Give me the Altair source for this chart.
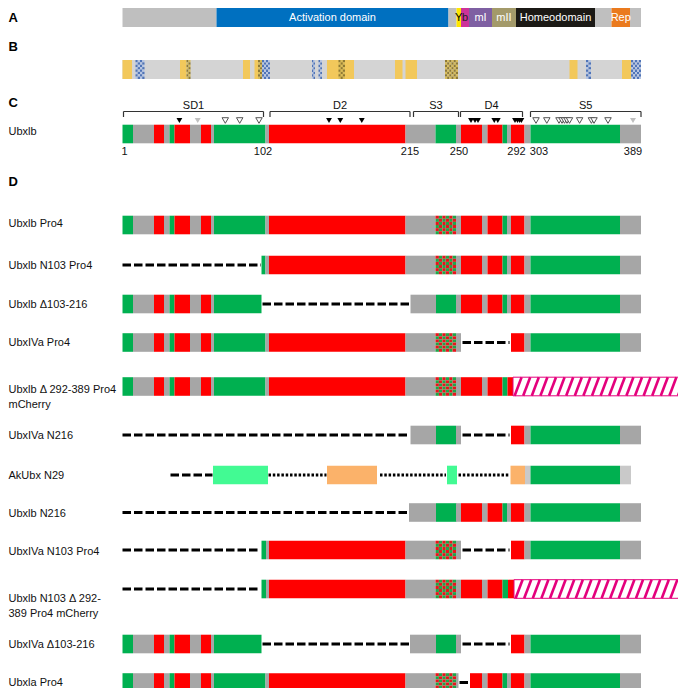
import altair as alt
import pandas as pd

W, H = 670, 680

# ---------------- Panel A: domain map ----------------
A_START = [122.5, 216.5, 448.5, 456.5, 461, 469, 492, 516, 595, 611.5, 630]
A_END = [216.5, 448.5, 456.5, 461, 469, 492, 516, 595, 611.5, 630, 641]
A_COLOR = ['#bfbfbf', '#0070c0', '#bfbfbf', '#ffe600', '#cc3399', '#7e5fa2',
           '#a39a6a', '#1b1915', '#bfbfbf', '#ea7a1e', '#bfbfbf']
A_TEXT = ['', 'Activation domain', '', 'Y', 'b', 'mI', 'mII', 'Homeodomain', '', 'Rep', '']
A_TEXT_COLOR = ['white', 'white', 'white', 'black', '#222222', 'white', 'white',
                'white', 'white', 'white', 'white']
A_Y = 17.5

# ---------------- Panel B: sequence features ----------------
B_SPAN = (122.5, 641)
B_Y = 69.5
B_FEATURES = [
    (122.5, 132, 'Y'), (135.5, 144.5, 'B'), (180, 186.5, 'Y'), (186.5, 190.5, 'O'),
    (243, 250, 'Y'), (254.5, 258, 'Y'), (258, 262, 'O'), (262, 270, 'B'),
    (312, 315, 'B'), (318.5, 322, 'B'), (327, 354, 'Y'), (338.5, 345, 'O'),
    (395, 402.5, 'Y'), (405.5, 417, 'Y'), (445, 458, 'O'), (569.5, 577.5, 'Y'),
    (586, 591, 'B'), (622, 631, 'Y'), (631, 641, 'B'),
]

# ---------------- Panel C: Ubxlb regions ----------------
C_Y = 134
C_BRACKETS = [('SD1', 123.5, 263.5), ('D2', 270, 410), ('S3', 413.5, 458.5),
              ('D4', 460.5, 522.5), ('S5', 530.5, 641)]
C_NUMBERS = ['1', '102', '215', '250', '292', '303', '389']
C_NUMBER_POS = [124.5, 263, 410, 459, 516.5, 539, 633]
TRI_BLACK = [179.4, 329, 340.3, 361.8, 471, 475, 478, 494.3, 497.8, 515, 517.5, 519.7, 521.4]
TRI_GRAY = [197.7, 633]
TRI_OPEN = [225.3, 239.7, 259, 536, 546.8, 559, 562, 564.5, 567, 569.5, 579.6, 591.4, 594, 608]

STD_N = [(122.5, 133, 'G'), (133, 154, 'g'), (154, 164, 'R'), (164, 169.5, 'g'),
         (169.5, 174.5, 'G'), (174.5, 190, 'R'), (190, 201, 'g'), (201, 211, 'R'),
         (211, 214, 'g')]
C_SEGS = STD_N + [(214, 265.5, 'G'), (265.5, 269, 'g'), (269, 405.5, 'R'), (405.5, 435.5, 'g'),
                  (435.5, 456, 'G'), (456, 461, 'g'), (461, 482, 'R'), (482, 487.5, 'g'),
                  (487.5, 502.5, 'R'), (502.5, 507, 'G'), (507, 511, 'g'), (511, 524.5, 'R'),
                  (524.5, 530.5, 'g'), (530.5, 620, 'G'), (620, 641, 'g')]

# ---------------- Panel D: constructs ----------------
D_LABELS = ['Ubxlb Pro4', 'Ubxlb N103 Pro4', 'Ubxlb \u0394103-216', 'UbxIVa Pro4',
            'Ubxlb \u0394 292-389 Pro4\nmCherry', 'UbxIVa N216', 'AkUbx N29', 'Ubxlb  N216',
            'UbxIVa N103 Pro4', 'Ubxlb N103 \u0394 292-\n389 Pro4 mCherry',
            'UbxIVa \u0394103-216', 'Ubxla Pro4']
D_Y = [225, 265, 304, 342.5, 386.5, 435, 475, 512.5, 550, 589, 644, 682.5]
D_LABEL_Y = [224, 266, 305, 343, 389.5, 436, 476, 513.5, 552, 599, 645, 683]

MID = [(214, 265.5, 'G'), (265.5, 269, 'g'), (269, 405.5, 'R'), (405.5, 435.5, 'g')]
C_TAIL = [(511, 524.5, 'R'), (524.5, 530.5, 'g'), (530.5, 620, 'G'), (620, 641, 'g')]
D4_FULL = [(456, 461, 'g'), (461, 482, 'R'), (482, 487.5, 'g'), (487.5, 502.5, 'R'),
           (502.5, 507, 'G'), (507, 511, 'g')]

D_SEGS = [
    STD_N + MID + [(435.5, 456, 'K')] + D4_FULL + C_TAIL,
    [(122.5, 261, '-'), (261.5, 265.5, 'G'), (265.5, 269, 'g'), (269, 405.5, 'R'),
     (405.5, 435.5, 'g'), (435.5, 456, 'K')] + D4_FULL + C_TAIL,
    STD_N + [(214, 261.5, 'G'), (262.5, 410, '-'), (410.5, 436, 'g'), (436, 456, 'G')]
    + D4_FULL + C_TAIL,
    STD_N + MID + [(435.5, 456, 'K'), (456, 461, 'g'), (462.5, 509.5, '-')] + C_TAIL,
    STD_N + MID + [(435.5, 456, 'K'), (456, 461, 'g'), (461, 482, 'R'), (482, 487.5, 'g'),
                   (487.5, 502.5, 'R'), (502.5, 507.5, 'G'), (507.5, 513, 'R'),
                   (513, 681.5, 'H')],
    [(122.5, 409, '-'), (410.5, 436, 'g'), (436, 456, 'G'), (456, 461, 'g'),
     (462.5, 509.5, '-')] + C_TAIL,
    [(170.5, 212.5, '-'), (213, 268, 'M'), (268.5, 326.5, ':'), (327, 377, 'O'),
     (380, 446, ':'), (447, 457, 'M'), (458.5, 509.5, ':'), (510.5, 525, 'O'),
     (525, 530.5, 'l'), (530.5, 620, 'G'), (620, 631, 'l')],
    [(122.5, 408, '-'), (409, 436, 'g'), (436, 456.5, 'G')] + D4_FULL + C_TAIL,
    [(122.5, 260.5, '-'), (261.5, 266, 'G'), (266, 269, 'g'), (269, 405.5, 'R'),
     (405.5, 435.5, 'g'), (435.5, 456, 'K'), (456, 461, 'g'), (462.5, 509.5, '-')] + C_TAIL,
    [(122.5, 260.5, '-'), (261.5, 266, 'G'), (266, 269, 'g'), (269, 405.5, 'R'),
     (405.5, 435.5, 'g'), (435.5, 456, 'K'), (456, 461, 'g'), (461, 482, 'R'),
     (482, 487.5, 'g'), (487.5, 502.5, 'R'), (502.5, 508, 'G'), (508, 514, 'R'),
     (514, 682.5, 'H')],
    STD_N + [(214, 261.5, 'G'), (262.5, 409.5, '-'), (410, 436, 'g'), (436, 456, 'G'),
             (456, 461, 'g'), (462.5, 509.5, '-')] + C_TAIL,
    STD_N + MID + [(435.5, 456, 'K'), (456, 458.5, 'g'), (459.5, 469.5, '-'),
                   (470, 482, 'R'), (482, 487.5, 'g'), (487.5, 502.5, 'R'),
                   (502.5, 507, 'G'), (507, 511, 'g')] + C_TAIL,
]

# ---------------- styles ----------------
KIND_COLOR = {'G': '#00b050', 'g': '#a6a6a6', 'R': '#ff0000', 'M': '#42fa93',
              'O': '#fbb26a', 'l': '#c9c9c9'}
HALF = 9.3
PINK = '#e4007c'
FONT = 'Liberation Sans'
LEFT = 8.5

rects, dashes, dots, lines_hatch, borders, brackets = [], [], [], [], [], []


def add_rect(x, x2, yc, fill, half=HALF):
    rects.append(dict(x=x, x2=x2, y=yc - half, y2=yc + half, fill=fill))


def add_texture(x, x2, yc, c1, c2, nx, ny, half=HALF):
    cw = (x2 - x) / nx
    ch = 2 * half / ny
    for i in range(nx):
        for j in range(ny):
            rects.append(dict(x=x + i * cw, x2=x + (i + 1) * cw,
                              y=yc - half + j * ch, y2=yc - half + (j + 1) * ch,
                              fill=c1 if (i + j) % 2 == 0 else c2))


def add_hatch(x, x2, yc):
    add_rect(x, x2, yc, 'white')
    top, bot = yc - HALF, yc + HALF
    dx, period = 7.0, 8.6
    b = x - dx
    while b < x2:
        t0 = max(0.0, (x - b) / dx)
        t1 = min(1.0, (x2 - b) / dx)
        if t1 > t0:
            lines_hatch.append(dict(x=b + dx * t0, x2=b + dx * t1,
                                    y=bot - (bot - top) * t0, y2=bot - (bot - top) * t1))
        b += period
    borders.append(dict(x=x, x2=x2, y=top, y2=bot))


def add_segments(segs, yc):
    for s, e, k in segs:
        if k == '-':
            dashes.append(dict(x=s, x2=e, y=yc))
        elif k == ':':
            dots.append(dict(x=s, x2=e, y=yc))
        elif k == 'K':
            add_texture(s, e, yc, '#e8141c', '#1fa64a', 6, 6)
        elif k == 'H':
            add_hatch(s, e, yc)
        else:
            add_rect(s, e, yc, KIND_COLOR[k])


# Panel A
for s, e, c in zip(A_START, A_END, A_COLOR):
    add_rect(s, e, A_Y, c, 9.5)
# Panel B
add_rect(B_SPAN[0], B_SPAN[1], B_Y, '#d4d4d4', 9.5)
for s, e, k in B_FEATURES:
    if k == 'Y':
        add_rect(s, e, B_Y, '#f2c85b', 9.5)
    elif k == 'B':
        add_texture(s, e, B_Y, '#4f74b8', '#b7c6e2', max(2, round((e - s) / 2.2)), 8, 9.5)
    else:
        add_texture(s, e, B_Y, '#8f7a35', '#d9bd5a', max(2, round((e - s) / 2.2)), 8, 9.5)
# Panel C
add_segments(C_SEGS, C_Y)
for name, s, e in C_BRACKETS:
    brackets.append(dict(x=s, x2=e, y=111.5, y2=111.5))
    brackets.append(dict(x=s, x2=s, y=111.5, y2=117))
    brackets.append(dict(x=e, x2=e, y=111.5, y2=117))
# Panel D
for segs, yc in zip(D_SEGS, D_Y):
    add_segments(segs, yc)

xs = alt.Scale(domain=[8, 8 + W], nice=False, zero=False)
ys = alt.Scale(domain=[8, 8 + H], nice=False, zero=False, reverse=True)


def X(f):
    return alt.X(f, type='quantitative', scale=xs, axis=None)


def Y(f):
    return alt.Y(f, type='quantitative', scale=ys, axis=None)


rect_layer = alt.Chart(pd.DataFrame(rects)).mark_rect(strokeWidth=0).encode(
    x=X('x'), x2='x2', y=Y('y'), y2='y2', fill=alt.Fill('fill:N', scale=None))
hatch_layer = alt.Chart(pd.DataFrame(lines_hatch)).mark_rule(
    color=PINK, strokeWidth=2.6).encode(x=X('x'), x2='x2', y=Y('y'), y2='y2')
border_layer = alt.Chart(pd.DataFrame(borders)).mark_rect(
    fillOpacity=0, stroke=PINK, strokeWidth=1).encode(x=X('x'), x2='x2', y=Y('y'), y2='y2')
dash_layer = alt.Chart(pd.DataFrame(dashes)).mark_rule(
    color='black', strokeWidth=3, strokeDash=[8.5, 3]).encode(x=X('x'), x2='x2', y=Y('y'))
dot_layer = alt.Chart(pd.DataFrame(dots)).mark_rule(
    color='black', strokeWidth=3, strokeDash=[2.5, 1.8]).encode(x=X('x'), x2='x2', y=Y('y'))
bracket_layer = alt.Chart(pd.DataFrame(brackets)).mark_rule(
    color='#333333', strokeWidth=1.2).encode(x=X('x'), x2='x2', y=Y('y'), y2='y2')

TRI_Y = 120.5
tri_black = alt.Chart(pd.DataFrame(dict(x=TRI_BLACK, y=TRI_Y))).mark_point(
    shape='triangle-down', filled=True, color='black', size=34, opacity=1).encode(x=X('x'), y=Y('y'))
tri_gray = alt.Chart(pd.DataFrame(dict(x=TRI_GRAY, y=TRI_Y))).mark_point(
    shape='triangle-down', filled=True, color='#c0c0c0', size=36, opacity=1).encode(x=X('x'), y=Y('y'))
tri_open = alt.Chart(pd.DataFrame(dict(x=TRI_OPEN, y=TRI_Y))).mark_point(
    shape='triangle-down', filled=True, fill='white', stroke='#555555', strokeWidth=1,
    size=42, opacity=1).encode(x=X('x'), y=Y('y'))

# Texts
a_txt = pd.DataFrame(dict(x=[(s + e) / 2 for s, e in zip(A_START, A_END)], y=A_Y,
                          t=A_TEXT, c=A_TEXT_COLOR))
a_txt = a_txt[a_txt.t != '']
a_text_layer = alt.Chart(a_txt).mark_text(font=FONT, fontSize=11, baseline='middle').encode(
    x=X('x'), y=Y('y'), text='t:N', color=alt.Color('c:N', scale=None))

letters = pd.DataFrame(dict(x=LEFT, y=[A_Y, 47, 103, 182], t=['A', 'B', 'C', 'D']))
letter_layer = alt.Chart(letters).mark_text(
    font=FONT, fontSize=13, fontWeight='bold', align='left', baseline='middle').encode(
    x=X('x'), y=Y('y'), text='t:N')

labels = pd.DataFrame(dict(x=LEFT, y=D_LABEL_Y + [131.5], t=D_LABELS + ['Ubxlb']))
label_layer = alt.Chart(labels).mark_text(
    font=FONT, fontSize=11, align='left', baseline='middle', lineBreak='\n',
    lineHeight=15, color='#111111').encode(x=X('x'), y=Y('y'), text='t:N')

reg = pd.DataFrame(dict(x=[(s + e) / 2 for _, s, e in C_BRACKETS], y=105.5,
                        t=[n for n, _, _ in C_BRACKETS]))
reg_layer = alt.Chart(reg).mark_text(font=FONT, fontSize=11, baseline='middle',
                                     color='#111111').encode(x=X('x'), y=Y('y'), text='t:N')
nums = pd.DataFrame(dict(x=C_NUMBER_POS, y=152, t=C_NUMBERS))
num_layer = alt.Chart(nums).mark_text(font=FONT, fontSize=11, baseline='middle',
                                      color='#111111').encode(x=X('x'), y=Y('y'), text='t:N')

chart = alt.layer(
    rect_layer, hatch_layer, border_layer, dash_layer, dot_layer, bracket_layer,
    tri_black, tri_gray, tri_open, a_text_layer, letter_layer, label_layer, reg_layer, num_layer
).properties(
    width=W, height=H, padding=0, autosize=alt.AutoSizeParams(type='none')
).configure_view(stroke=None)

chart.save("out.html", embed_options={"renderer": "svg", "actions": False})
